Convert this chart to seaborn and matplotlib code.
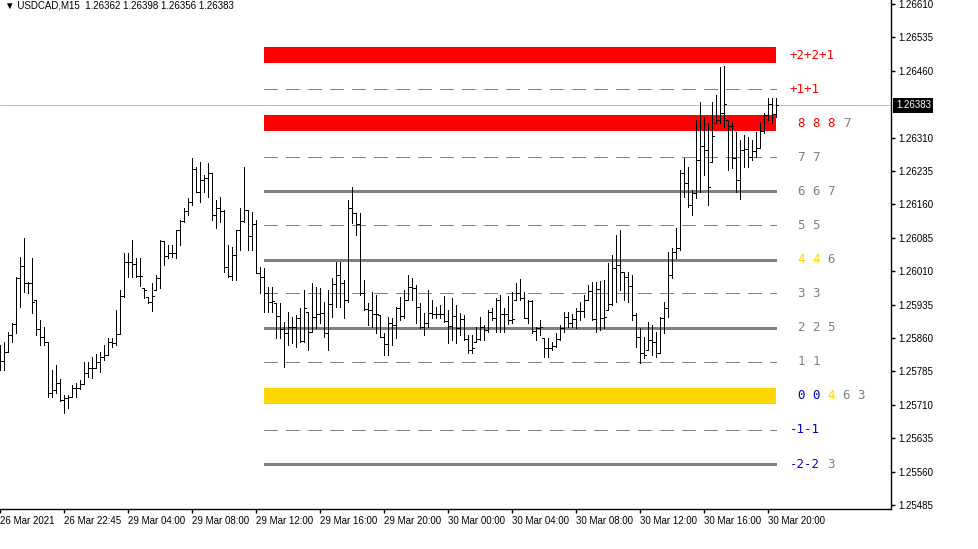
import matplotlib
matplotlib.use("Agg")
import matplotlib.pyplot as plt
import seaborn as sns
import numpy as np

# ---- data (USDCAD M15) ------------------------------------------------
symbol = "USDCAD,M15"

opens = [
    1.25799, 1.25808, 1.25829, 1.25867, 1.25891, 1.25995, 1.26022, 1.25984, 1.25984, 1.25945,
    1.25880, 1.25862, 1.25851, 1.25737, 1.25743, 1.25759, 1.25721, 1.25725, 1.25728, 1.25748,
    1.25748, 1.25757, 1.25781, 1.25793, 1.25793, 1.25806, 1.25817, 1.25822, 1.25851, 1.25849,
    1.25869, 1.25954, 1.26031, 1.26031, 1.26026, 1.25999, 1.25972, 1.25952, 1.25941, 1.25968,
    1.25995, 1.26078, 1.26044, 1.26051, 1.26051, 1.26103, 1.26123, 1.26145, 1.26165, 1.26239,
    1.26188, 1.26215, 1.26219, 1.26231, 1.26136, 1.26152, 1.26145, 1.26019, 1.25999, 1.26046,
    1.26103, 1.26123, 1.26147, 1.26089, 1.26116, 1.26006, 1.25997, 1.25961, 1.25941, 1.25939,
    1.25909, 1.25880, 1.25871, 1.25885, 1.25885, 1.25905, 1.25853, 1.25918, 1.25873, 1.25907,
    1.25914, 1.25916, 1.25871, 1.25936, 1.25981, 1.26001, 1.25984, 1.25945, 1.26152, 1.26141,
    1.26116, 1.25961, 1.25925, 1.25923, 1.25914, 1.25912, 1.25862, 1.25847, 1.25894, 1.25889,
    1.25927, 1.25909, 1.25945, 1.25975, 1.25972, 1.25930, 1.25885, 1.25894, 1.25916, 1.25914,
    1.25914, 1.25914, 1.25898, 1.25887, 1.25909, 1.25882, 1.25903, 1.25858, 1.25833, 1.25851,
    1.25858, 1.25885, 1.25878, 1.25918, 1.25905, 1.25945, 1.25914, 1.25914, 1.25900, 1.25945,
    1.25961, 1.25950, 1.25905, 1.25943, 1.25876, 1.25882, 1.25860, 1.25838, 1.25838, 1.25842,
    1.25858, 1.25882, 1.25907, 1.25894, 1.25903, 1.25921, 1.25921, 1.25945, 1.25966, 1.25903,
    1.25970, 1.25905, 1.25923, 1.25936, 1.26017, 1.26024, 1.26008, 1.25997, 1.25977, 1.25912,
    1.25862, 1.25826, 1.25833, 1.25856, 1.25851, 1.25826, 1.25905, 1.25927, 1.26001, 1.26053,
    1.26062, 1.26231, 1.26208, 1.26159, 1.26186, 1.26260, 1.26291, 1.26282, 1.26255, 1.26343,
    1.26350, 1.26365, 1.26350, 1.26336, 1.26264, 1.26215, 1.26282, 1.26284, 1.26266, 1.26280,
    1.26287, 1.26325, 1.26361, 1.26385, 1.26362,
]
highs = [
    1.25844, 1.25851, 1.25873, 1.25894, 1.25997, 1.26042, 1.26085, 1.25986, 1.26040, 1.25945,
    1.25900, 1.25885, 1.25851, 1.25788, 1.25799, 1.25768, 1.25732, 1.25732, 1.25754, 1.25759,
    1.25766, 1.25806, 1.25806, 1.25817, 1.25824, 1.25829, 1.25844, 1.25860, 1.25860, 1.25923,
    1.25968, 1.26051, 1.26051, 1.26080, 1.26040, 1.26040, 1.25972, 1.25952, 1.25984, 1.26001,
    1.26080, 1.26078, 1.26069, 1.26069, 1.26103, 1.26125, 1.26152, 1.26174, 1.26264, 1.26244,
    1.26255, 1.26226, 1.26253, 1.26231, 1.26170, 1.26177, 1.26147, 1.26069, 1.26064, 1.26103,
    1.26152, 1.26244, 1.26147, 1.26143, 1.26125, 1.26019, 1.26017, 1.25975, 1.25975, 1.25939,
    1.25939, 1.25896, 1.25918, 1.25907, 1.25912, 1.25927, 1.25968, 1.25918, 1.25984, 1.25975,
    1.25972, 1.25941, 1.25968, 1.25995, 1.26031, 1.26031, 1.25990, 1.26170, 1.26199, 1.26141,
    1.26141, 1.25990, 1.25939, 1.25963, 1.25957, 1.25912, 1.25871, 1.25907, 1.25905, 1.25930,
    1.25952, 1.25968, 1.26001, 1.25995, 1.25979, 1.25939, 1.25916, 1.25968, 1.25945, 1.25930,
    1.25934, 1.25954, 1.25923, 1.25950, 1.25934, 1.25916, 1.25912, 1.25867, 1.25867, 1.25885,
    1.25907, 1.25889, 1.25923, 1.25927, 1.25950, 1.25957, 1.25927, 1.25954, 1.25963, 1.25984,
    1.25993, 1.25963, 1.25945, 1.25945, 1.25885, 1.25900, 1.25860, 1.25860, 1.25851, 1.25871,
    1.25889, 1.25918, 1.25918, 1.25914, 1.25927, 1.25941, 1.25957, 1.25979, 1.25986, 1.25986,
    1.25988, 1.25990, 1.26028, 1.26046, 1.26091, 1.26103, 1.26008, 1.26008, 1.26001, 1.25916,
    1.25882, 1.25862, 1.25896, 1.25889, 1.25873, 1.25907, 1.25941, 1.26053, 1.26062, 1.26107,
    1.26237, 1.26264, 1.26244, 1.26192, 1.26350, 1.26390, 1.26356, 1.26343, 1.26390, 1.26406,
    1.26469, 1.26471, 1.26350, 1.26345, 1.26323, 1.26305, 1.26316, 1.26311, 1.26305, 1.26323,
    1.26345, 1.26365, 1.26399, 1.26399, 1.26398,
]
lows = [
    1.25788, 1.25788, 1.25829, 1.25851, 1.25871, 1.25930, 1.25963, 1.25961, 1.25916, 1.25867,
    1.25844, 1.25844, 1.25728, 1.25728, 1.25737, 1.25719, 1.25692, 1.25703, 1.25728, 1.25728,
    1.25746, 1.25757, 1.25772, 1.25770, 1.25793, 1.25784, 1.25811, 1.25822, 1.25840, 1.25844,
    1.25869, 1.25952, 1.25997, 1.25997, 1.25997, 1.25977, 1.25950, 1.25939, 1.25921, 1.25968,
    1.25972, 1.26024, 1.26040, 1.26042, 1.26040, 1.26069, 1.26121, 1.26136, 1.26159, 1.26188,
    1.26165, 1.26188, 1.26177, 1.26125, 1.26107, 1.26121, 1.26008, 1.25997, 1.25990, 1.25990,
    1.26058, 1.26121, 1.26058, 1.26058, 1.26006, 1.25961, 1.25918, 1.25918, 1.25918, 1.25860,
    1.25860, 1.25795, 1.25844, 1.25849, 1.25840, 1.25851, 1.25851, 1.25833, 1.25873, 1.25882,
    1.25894, 1.25862, 1.25833, 1.25907, 1.25930, 1.25930, 1.25905, 1.25941, 1.26118, 1.26091,
    1.25957, 1.25923, 1.25889, 1.25885, 1.25871, 1.25862, 1.25822, 1.25822, 1.25844, 1.25860,
    1.25900, 1.25905, 1.25945, 1.25945, 1.25894, 1.25882, 1.25867, 1.25885, 1.25905, 1.25905,
    1.25905, 1.25896, 1.25849, 1.25856, 1.25849, 1.25867, 1.25856, 1.25826, 1.25826, 1.25851,
    1.25856, 1.25856, 1.25873, 1.25900, 1.25873, 1.25873, 1.25873, 1.25891, 1.25894, 1.25945,
    1.25945, 1.25905, 1.25894, 1.25871, 1.25856, 1.25867, 1.25817, 1.25817, 1.25833, 1.25840,
    1.25856, 1.25873, 1.25885, 1.25885, 1.25882, 1.25900, 1.25907, 1.25945, 1.25900, 1.25873,
    1.25878, 1.25882, 1.25923, 1.25934, 1.25941, 1.25968, 1.25945, 1.25941, 1.25900, 1.25840,
    1.25804, 1.25815, 1.25833, 1.25822, 1.25817, 1.25826, 1.25871, 1.25907, 1.25995, 1.26040,
    1.26058, 1.26177, 1.26154, 1.26136, 1.26174, 1.26188, 1.26226, 1.26159, 1.26255, 1.26343,
    1.26343, 1.26334, 1.26237, 1.26242, 1.26188, 1.26172, 1.26244, 1.26244, 1.26260, 1.26266,
    1.26287, 1.26320, 1.26350, 1.26343, 1.26356,
]
closes = [
    1.25808, 1.25829, 1.25867, 1.25891, 1.25995, 1.26022, 1.25984, 1.25984, 1.25941, 1.25880,
    1.25862, 1.25851, 1.25737, 1.25743, 1.25759, 1.25721, 1.25725, 1.25728, 1.25748, 1.25748,
    1.25757, 1.25781, 1.25793, 1.25793, 1.25806, 1.25817, 1.25822, 1.25851, 1.25849, 1.25869,
    1.25954, 1.26031, 1.26031, 1.26026, 1.25999, 1.25999, 1.25968, 1.25941, 1.25954, 1.25995,
    1.26078, 1.26044, 1.26051, 1.26051, 1.26103, 1.26123, 1.26145, 1.26165, 1.26239, 1.26188,
    1.26215, 1.26219, 1.26231, 1.26136, 1.26152, 1.26145, 1.26019, 1.25999, 1.26046, 1.26103,
    1.26123, 1.26147, 1.26089, 1.26116, 1.26006, 1.25997, 1.25961, 1.25941, 1.25943, 1.25909,
    1.25880, 1.25871, 1.25885, 1.25885, 1.25905, 1.25853, 1.25927, 1.25873, 1.25907, 1.25914,
    1.25916, 1.25871, 1.25936, 1.25981, 1.26001, 1.25984, 1.25945, 1.26152, 1.26141, 1.26116,
    1.25961, 1.25925, 1.25923, 1.25914, 1.25914, 1.25862, 1.25847, 1.25894, 1.25889, 1.25927,
    1.25909, 1.25945, 1.25975, 1.25972, 1.25930, 1.25885, 1.25894, 1.25916, 1.25914, 1.25914,
    1.25914, 1.25898, 1.25887, 1.25909, 1.25882, 1.25903, 1.25858, 1.25833, 1.25838, 1.25858,
    1.25885, 1.25878, 1.25918, 1.25905, 1.25945, 1.25914, 1.25914, 1.25900, 1.25903, 1.25961,
    1.25950, 1.25905, 1.25943, 1.25876, 1.25882, 1.25885, 1.25838, 1.25838, 1.25842, 1.25858,
    1.25882, 1.25907, 1.25894, 1.25903, 1.25921, 1.25921, 1.25945, 1.25966, 1.25903, 1.25970,
    1.25905, 1.25907, 1.25936, 1.26017, 1.26024, 1.26008, 1.25997, 1.25977, 1.25912, 1.25862,
    1.25826, 1.25822, 1.25856, 1.25851, 1.25826, 1.25905, 1.25927, 1.26001, 1.26053, 1.26062,
    1.26231, 1.26208, 1.26159, 1.26186, 1.26260, 1.26291, 1.26282, 1.26199, 1.26314, 1.26350,
    1.26365, 1.26385, 1.26336, 1.26264, 1.26215, 1.26282, 1.26284, 1.26266, 1.26280, 1.26287,
    1.26325, 1.26361, 1.26385, 1.26363, 1.26383,
]

# bar index of each time label (one label every 16 bars = 4 h)
tick_bars = [0, 16, 32, 48, 64, 80, 96, 112, 128, 144, 160, 176, 192]
tick_labels = ["26 Mar 2021", "26 Mar 22:45", "29 Mar 04:00", "29 Mar 08:00",
               "29 Mar 12:00", "29 Mar 16:00", "29 Mar 20:00", "30 Mar 00:00",
               "30 Mar 04:00", "30 Mar 08:00", "30 Mar 12:00", "30 Mar 16:00",
               "30 Mar 20:00"]
price_ticks = [1.26610, 1.26535, 1.26460, 1.26310, 1.26235, 1.26160, 1.26085,
               1.26010, 1.25935, 1.25860, 1.25785, 1.25710, 1.25635, 1.25560,
               1.25485]

# Murrey math levels (+2/8 ... -2/8)
murrey_levels = [1.26495, 1.26419, 1.26342, 1.26266, 1.26189, 1.26113, 1.26036,
                 1.25960, 1.25883, 1.25807, 1.25730, 1.25654, 1.25577]
level_kinds = ["band_red", "dash", "band_red", "dash", "solid", "dash", "solid",
               "dash", "solid", "dash", "band_gold", "dash", "solid"]
level_texts = [
    [("+2+2+1", "red")],
    [("+1+1", "red")],
    [(" 8 8 8", "red"), ("       7", "gray")],
    [(" 7 7", "gray")],
    [(" 6 6 7", "gray")],
    [(" 5 5", "gray")],
    [(" 4 4", "gold"), ("     6", "gray")],
    [(" 3 3", "gray")],
    [(" 2 2 5", "gray")],
    [(" 1 1", "gray")],
    [(" 0 0", "blue"), ("     4", "gold"), ("       6 3", "gray")],
    [("-1-1", "blue")],
    [("-2-2", "blue"), ("     3", "gray")],
]
level_first_bar = 66

# ---- style ------------------------------------------------------------
sns.set_theme(style="white")
plt.rcParams["font.family"] = ["Liberation Sans", "DejaVu Sans"]
plt.rcParams["lines.scale_dashes"] = False

text_colors = {"red": "#FF0000", "gray": "#808080",
               "gold": "#FFD700", "blue": "#0000CD"}
band_colors = {"band_red": "#FF0000", "band_gold": "#FFD700"}
band_half = 0.00018
label_size = 9
char_w = 0.602 * label_size  # largura de um caractere mono, em pontos

fig = plt.figure(figsize=(9.79, 5.49), dpi=100)
ax = fig.add_axes([0, 40 / 549, 891 / 979, 509 / 549])
ax.set_facecolor("white")

x = np.arange(len(opens))
last_bar = x[-1]
px = 0.72  # 1 pixel em pontos

# linha do preco atual
ax.axhline(closes[-1], color="#C0C0C0", lw=px, zorder=1)

# niveis de Murrey
for lvl, kind in zip(murrey_levels, level_kinds):
    if kind in band_colors:
        ax.fill_between([level_first_bar, last_bar], lvl - band_half, lvl + band_half,
                        color=band_colors[kind], lw=0, zorder=2)
    elif kind == "dash":
        ax.hlines(lvl, level_first_bar, last_bar, colors="#808080", lw=px,
                  linestyles=(0, (10, 6)), zorder=2, antialiased=False)
    else:
        ax.hlines(lvl, level_first_bar, last_bar, colors="#808080", lw=1.8,
                  zorder=2, antialiased=False)

# barras OHLC
ax.vlines(x, lows, highs, colors="black", lw=px, zorder=3, antialiased=False)
ax.hlines(opens, x - 0.45, x, colors="black", lw=px, zorder=3, antialiased=False)
ax.hlines(closes, x, x + 0.45, colors="black", lw=px, zorder=3, antialiased=False)

# rotulos dos niveis (monoespacado, cada cor deslocada pelo numero de espacos)
for lvl, parts in zip(murrey_levels, level_texts):
    for txt, ckey in parts:
        skip = len(txt) - len(txt.lstrip(" "))
        ax.annotate(txt.lstrip(" "), xy=(197.5, lvl), xytext=(skip * char_w, 0),
                    textcoords="offset points", color=text_colors[ckey],
                    fontsize=label_size, family="DejaVu Sans Mono",
                    va="center", ha="left", zorder=4)

ax.set_xlim(0, 222.75)
ax.set_ylim(1.25476, 1.26619)

# eixos no estilo MT4
for side in ["left", "top"]:
    ax.spines[side].set_visible(False)
for side in ["right", "bottom"]:
    ax.spines[side].set_color("black")
    ax.spines[side].set_linewidth(1.0)

ax.yaxis.tick_right()
ax.set_yticks(price_ticks)
ax.set_yticklabels([f"{p:.5f}" for p in price_ticks])
ax.set_xticks(tick_bars)
ax.set_xticklabels(tick_labels)
for lab in ax.get_xticklabels():
    lab.set_horizontalalignment("left")
ax.tick_params(axis="both", which="both", direction="out", length=3, width=1,
               color="black", labelsize=7, labelcolor="black", pad=2)
ax.tick_params(axis="y", right=True, left=False)
ax.tick_params(axis="x", bottom=True)
ax.grid(False)

# etiqueta do preco atual
ax.annotate(f"{closes[-1]:.5f}", xy=(1, closes[-1]),
            xycoords=("axes fraction", "data"), xytext=(3.5, 0),
            textcoords="offset points", ha="left", va="center",
            color="white", fontsize=7,
            bbox=dict(boxstyle="square,pad=0.25", fc="black", ec="none"))

# cabecalho
fig.text(5 / 979, 1 - 6 / 549,
         f"\u25bc {symbol}  {opens[-1]:.5f} {highs[-1]:.5f} "
         f"{lows[-1]:.5f} {closes[-1]:.5f}",
         fontsize=7, va="center", ha="left", color="black")

fig.savefig("out.png", dpi=100)
